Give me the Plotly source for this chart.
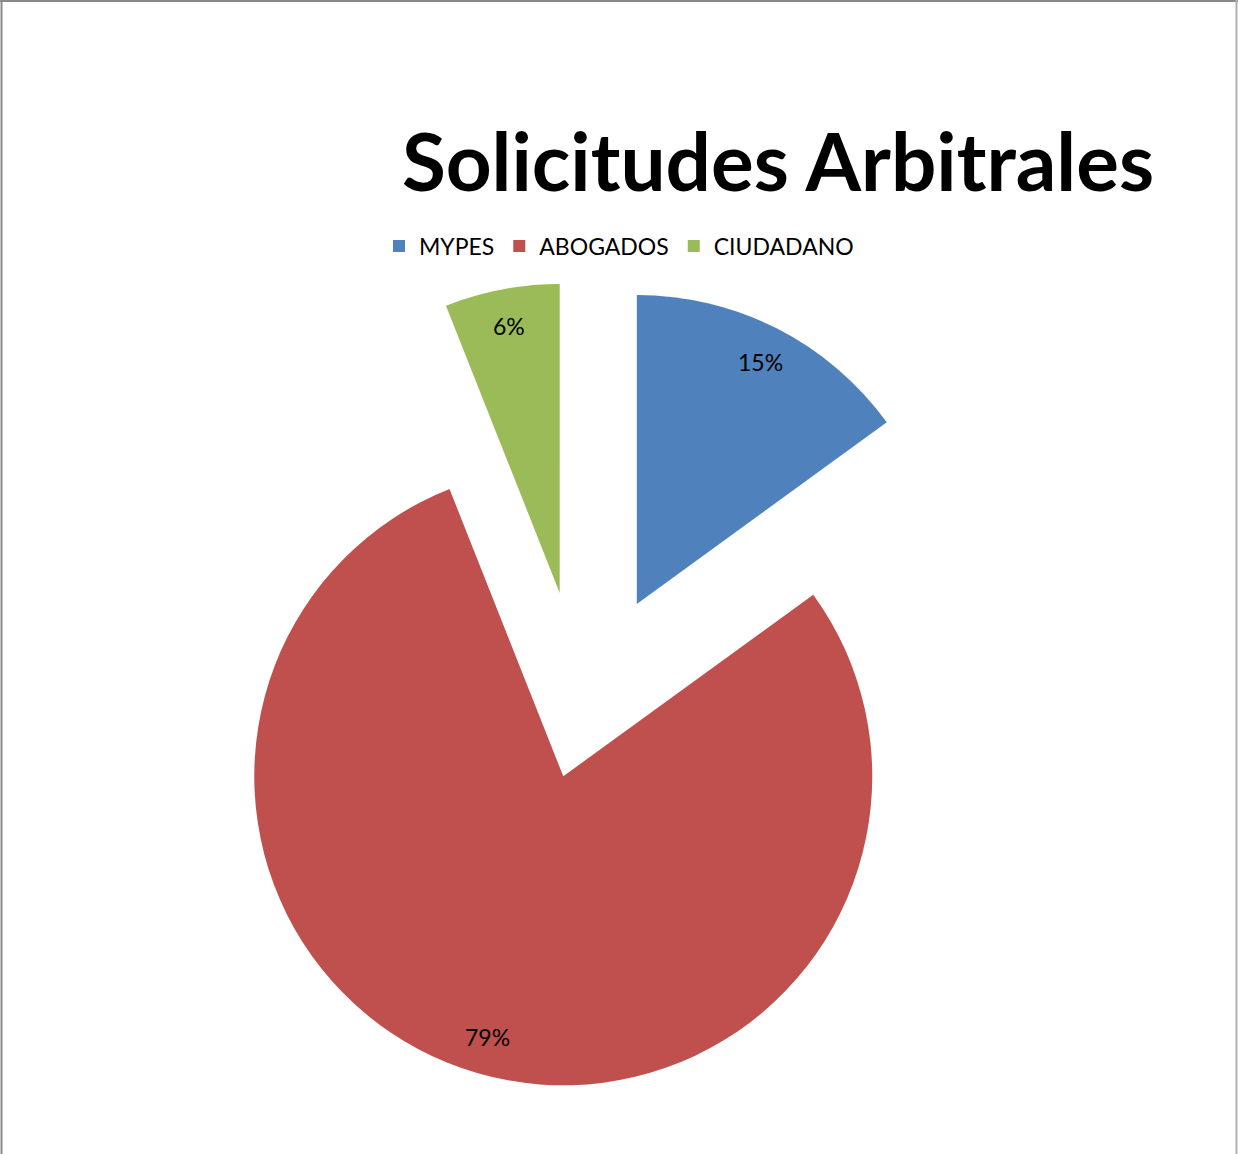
import math
import plotly.graph_objects as go

categories = ["MYPES", "ABOGADOS", "CIUDADANO"]
values = [15, 79, 6]
labels_text = ["15%", "79%", "6%"]
colors = ["#4F81BD", "#C0504D", "#9BBB59"]
pulls = [0.389, 0.22, 0.389]

W, H = 1238, 1154
dom_x = [0.1236, 0.8170]
dom_y = [0.01196, 0.7558]

fig = go.Figure()
fig.add_trace(go.Pie(
    labels=categories, values=values, sort=False, direction="clockwise",
    rotation=0, pull=pulls, marker=dict(colors=colors, line=dict(width=0)),
    textinfo="none", hoverinfo="label+percent",
    domain=dict(x=dom_x, y=dom_y), showlegend=True,
))

# label placement derived from the data (angles) and the pie geometry
box_w = W * (dom_x[1] - dom_x[0])
box_h = H * (dom_y[1] - dom_y[0])
max_pull = max(pulls)
r = min(box_w, box_h) / (2 + 2 * max_pull)
cx = W * (dom_x[0] + dom_x[1]) / 2
cy = H * (1 - (dom_y[0] + dom_y[1]) / 2)
total = sum(values)
start = 0.0
for v, t, p in zip(values, labels_text, pulls):
    mid = (start + v / 2) / total * 2 * math.pi
    start += v
    dx, dy = math.sin(mid), -math.cos(mid)
    ax = cx + dx * r * (p + 0.88)
    ay = cy + dy * r * (p + 0.88)
    fig.add_annotation(x=ax / W, y=1 - ay / H, xref="paper", yref="paper",
                       xanchor="center", yanchor="middle",
                       text=t, showarrow=False,
                       font=dict(family="Lato", size=23, color="#000000"))

fig.update_layout(
    width=W, height=H,
    margin=dict(l=0, r=0, t=0, b=0),
    paper_bgcolor="white", plot_bgcolor="white",
    font=dict(family="Lato", color="#000000"),
    title=dict(text="<b>Solicitudes Arbitrales</b>", x=778 / W, xanchor="center",
               y=1 - 163 / H, yanchor="middle", xref="paper", yref="paper",
               font=dict(family="Lato", size=80, color="#000000")),
    legend=dict(orientation="h", x=0.5, xanchor="center", y=1 - 246 / H,
                yanchor="middle", font=dict(family="Lato", size=23, color="#000000"),
                itemclick=False),
    shapes=[
        dict(type="line", xref="paper", yref="paper", x0=1.5 / W, x1=1.5 / W, y0=0, y1=1,
             line=dict(color="#8a8a8a", width=2)),
        dict(type="line", xref="paper", yref="paper", x0=0, x1=1, y0=1 - 1 / H, y1=1 - 1 / H,
             line=dict(color="#8a8a8a", width=2)),
        dict(type="line", xref="paper", yref="paper", x0=1 - 1.5 / W, x1=1 - 1.5 / W, y0=0, y1=1,
             line=dict(color="#b0b0b0", width=2)),
    ],
)

fig.write_html("out.html", config={"displayModeBar": False},
               post_script="document.body.style.margin='0px';")
